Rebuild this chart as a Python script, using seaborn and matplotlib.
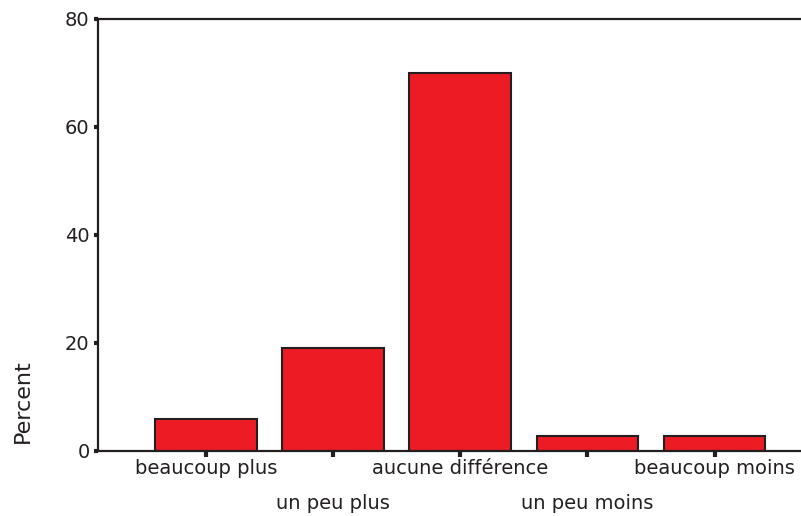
import numpy as np
import pandas as pd
import matplotlib
matplotlib.use("Agg")
import matplotlib.pyplot as plt
import matplotlib.transforms as mtransforms
import seaborn as sns

# categories and percentages
categories = ["beaucoup plus", "un peu plus", "aucune différence", "un peu moins", "beaucoup moins"]
percent = [5.9, 19.1, 70.0, 2.8, 2.8]
y_ticks = [0, 20, 40, 60, 80]

df = pd.DataFrame({"categorie": categories, "percent": percent})

sns.set_style("white")
plt.rcParams["font.family"] = ["DejaVu Sans"]

fig = plt.figure(figsize=(8.01, 5.16), dpi=100)
ax = fig.add_axes([98 / 801, 1 - 451 / 516, 1 - 98 / 801, 432 / 516])

dark = "#231F20"
sns.barplot(data=df, x="categorie", y="percent", color="#ED1C24", saturation=1,
            width=0.8, edgecolor=dark, linewidth=1.5, ax=ax)

ax.set_xlim(-0.85, 4.68)
ax.set_ylim(0, 80)
ax.set_yticks(y_ticks)
ax.set_yticklabels([str(t) for t in y_ticks], fontsize=14, color=dark)

for side in ["left", "bottom", "top"]:
    ax.spines[side].set_color(dark)
    ax.spines[side].set_linewidth(1.6)
ax.spines["right"].set_visible(False)

ax.tick_params(axis="y", length=3, width=3, color=dark, pad=3, left=True)
ax.tick_params(axis="x", length=4, width=3, color=dark, pad=2, bottom=True)

ax.set_xlabel("")
ax.set_xticks(range(len(categories)))
ax.set_xticklabels(categories, fontsize=14, color=dark)
# stagger every second label downwards
shift = mtransforms.ScaledTranslation(0, -35 / 100, fig.dpi_scale_trans)
for i, lab in enumerate(ax.get_xticklabels()):
    if i % 2 == 1:
        lab.set_transform(lab.get_transform() + shift)

ax.set_ylabel("Percent", fontsize=16, color=dark)
ax.yaxis.set_label_coords(-0.093, 0.116)

fig.savefig("out.png", dpi=100)
